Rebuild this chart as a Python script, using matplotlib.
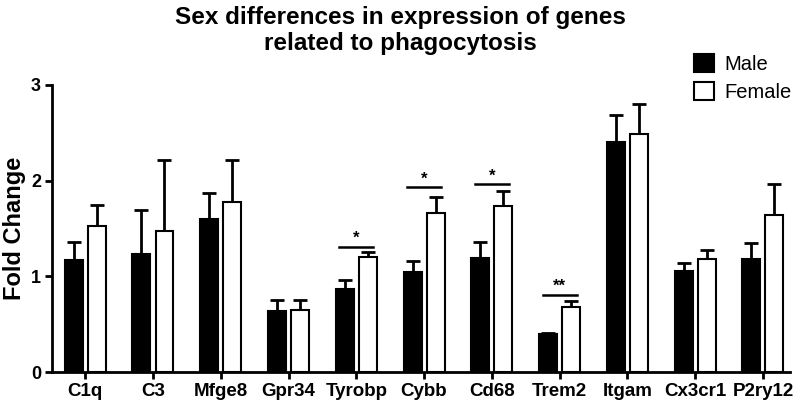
import numpy as np
import matplotlib.pyplot as plt

plt.rcParams['font.family'] = ['Liberation Sans', 'DejaVu Sans']

# 유전자 목록과 값
genes = ['C1q', 'C3', 'Mfge8', 'Gpr34', 'Tyrobp', 'Cybb', 'Cd68',
         'Trem2', 'Itgam', 'Cx3cr1', 'P2ry12']
male = [1.17, 1.23, 1.60, 0.64, 0.87, 1.05, 1.19, 0.40, 2.40, 1.06, 1.18]
male_err = [0.19, 0.46, 0.27, 0.11, 0.09, 0.11, 0.17, 0.01, 0.29, 0.08, 0.17]
female = [1.53, 1.47, 1.78, 0.645, 1.20, 1.66, 1.73, 0.68, 2.49, 1.18, 1.64]
female_err = [0.21, 0.74, 0.44, 0.105, 0.05, 0.17, 0.16, 0.06, 0.31, 0.09, 0.32]

# 유의성 표시 (유전자 인덱스, 선 높이, 기호)
sig_idx = [4, 5, 6, 7]
sig_y = [1.31, 1.93, 1.96, 0.81]
sig_txt = ['*', '*', '*', '**']

fig = plt.figure(figsize=(8, 4.04), dpi=100)
ax = fig.add_axes([0.065, 0.079, 0.9225, 0.711])

x = np.arange(len(genes))
w = 0.265
off = 0.17
ax.bar(x - off, male, w, color='black', edgecolor='black', linewidth=1.5,
       label='Male', zorder=2)
ax.bar(x + off, female, w, color='white', edgecolor='black', linewidth=1.5,
       label='Female', zorder=2)
ax.errorbar(x - off, male, yerr=[np.zeros(len(male)), male_err], fmt='none',
            ecolor='black', elinewidth=2, capsize=5, capthick=2, zorder=1)
ax.errorbar(x + off, female, yerr=[np.zeros(len(female)), female_err], fmt='none',
            ecolor='black', elinewidth=2, capsize=5, capthick=2, zorder=1)

for i, yy, t in zip(sig_idx, sig_y, sig_txt):
    ax.plot([i - off - 0.08, i + off + 0.08], [yy, yy], color='black', lw=1.8)
    ax.text(i, yy + 0.01, t, ha='center', va='bottom', fontsize=12,
            fontweight='bold')

ax.set_xlim(-0.49, 10.4)
ax.set_ylim(0, 3)
ax.set_yticks([0, 1, 2, 3])
ax.set_xticks(x)
ax.set_xticklabels(genes, fontsize=13.5, fontweight='bold')
for lab in ax.get_yticklabels():
    lab.set_fontsize(13)
    lab.set_fontweight('bold')
ax.tick_params(width=2, length=5, pad=3)
ax.spines['top'].set_visible(False)
ax.spines['right'].set_visible(False)
ax.spines['left'].set_linewidth(2)
ax.spines['bottom'].set_linewidth(2)
ylab = ax.set_ylabel('Fold Change', fontsize=17, fontweight='bold')
ylab.set_va('center')
ax.yaxis.set_label_coords(-0.051, 0.5)

fig.text(0.5, 0.985, 'Sex differences in expression of genes\nrelated to phagocytosis',
         ha='center', va='top', fontsize=17.5, fontweight='bold', linespacing=1.15)

ax.legend(loc='upper left', bbox_to_anchor=(0.845, 1.17), frameon=False,
          fontsize=14.5, handlelength=1.0, handleheight=1.0, handletextpad=0.5,
          labelspacing=0.4)

fig.savefig('out.png', dpi=100)
